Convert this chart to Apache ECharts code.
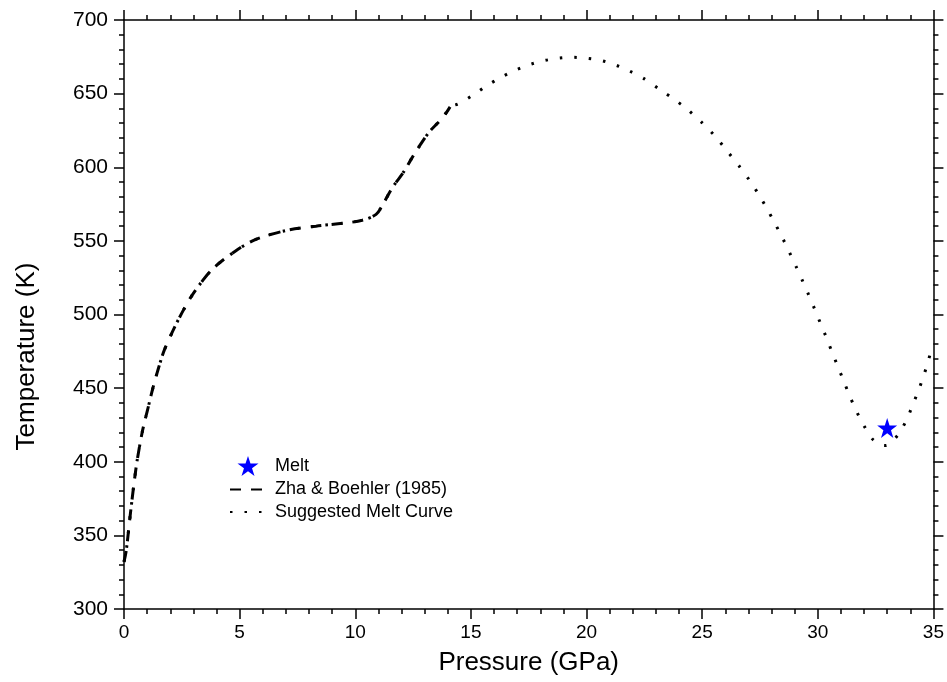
<!DOCTYPE html>
<html>
<head>
<meta charset="utf-8">
<script src="https://cdn.jsdelivr.net/npm/echarts@6/dist/echarts.min.js"></script>
<style>html,body{margin:0;padding:0;background:#fff}#c{width:947px;height:682px}</style>
</head>
<body>
<div id="c"></div>
<script>
// Zha & Boehler (1985) melting curve
const zhaP = [0, 0.1, 0.3, 0.55, 0.8, 1.0, 1.3, 1.7, 2.0, 2.4, 2.9, 3.4, 3.9, 4.9, 5.7, 7.0, 8.3, 9.5, 10.3, 10.9, 11.2, 11.6, 12.1, 12.4, 12.8, 13.2, 13.8, 14.1];
const zhaT = [332, 340, 368, 399, 421, 434, 453, 474, 485, 498, 512, 523, 532, 544, 551, 557, 560, 562, 564, 568, 575, 586, 597, 605, 615, 624, 634, 641];
// Suggested melt curve continuation beyond Zha & Boehler
const sugP = [14.45, 15.07, 15.67, 16.29, 16.91, 17.54, 18.16, 18.78, 19.4, 20.02, 20.65, 21.26, 21.83, 22.5, 23.2, 23.8, 24.34, 24.99, 25.58, 26.09, 26.59, 27.04, 27.44, 27.8, 28.14, 28.46, 28.76, 29.05, 29.33, 29.6, 29.87, 30.12, 30.38, 30.62, 30.87, 31.12, 31.37, 31.64, 31.95, 32.35, 32.7, 32.95, 33.2, 33.5, 33.85, 34.1, 34.35, 34.57, 34.76, 34.94, 35];
const sugT = [643, 648.8, 655.2, 661, 665.8, 669.7, 672.4, 674, 674.7, 674, 672.4, 669.4, 665.6, 660, 652.5, 646, 639.6, 630.3, 620.7, 610.8, 601, 591.3, 581.6, 571.9, 562.1, 552.4, 542.7, 532.9, 523.2, 513.5, 503.5, 493.8, 484, 474.3, 464.6, 454.8, 445.1, 435.4, 425.8, 415.7, 411.5, 411, 413.5, 419, 428.8, 438.5, 448.3, 458, 467.7, 477.5, 480];
// Melt observation
const meltP = [33.0];
const meltT = [423];

const xTicks = {min: 0, max: 35, interval: 5};
const yTicks = {min: 300, max: 700, interval: 50};

const zhaData = zhaP.map((p, i) => [p, zhaT[i]]);
const sugData = zhaP.map((p, i) => [p, zhaT[i]]).concat(sugP.map((p, i) => [p, sugT[i]]));
const meltData = meltP.map((p, i) => [p, meltT[i]]);

const star = 'path://M50,0 L61.2,34.5 L97.6,34.5 L68.2,55.9 L79.4,90.5 L50,69.1 L20.6,90.5 L31.8,55.9 L2.4,34.5 L38.8,34.5 Z';
const font = 'Liberation Sans, Arial, sans-serif';

const axisCommon = {
  axisLine: {show: true, onZero: false, lineStyle: {color: '#000', width: 1.5}},
  axisTick: {show: true, inside: false, length: 10, lineStyle: {color: '#000', width: 1.5}},
  minorTick: {show: true, splitNumber: 5, length: 5, lineStyle: {color: '#000', width: 1.5}},
  splitLine: {show: false}
};

const chart = echarts.init(document.getElementById('c'));
chart.setOption({
  backgroundColor: '#fff',
  animation: false,
  grid: {left: 124, right: 13, top: 20, bottom: 73},
  xAxis: [
    Object.assign({type: 'value', position: 'bottom', min: xTicks.min, max: xTicks.max, interval: xTicks.interval,
      name: 'Pressure (GPa)', nameLocation: 'middle', nameGap: 41,
      nameTextStyle: {fontSize: 26, color: '#000', fontFamily: font},
      axisLabel: {fontSize: 19, color: '#000', margin: 14, fontFamily: font}}, axisCommon),
    Object.assign({type: 'value', position: 'top', min: xTicks.min, max: xTicks.max, interval: xTicks.interval,
      axisLabel: {show: false}}, axisCommon)
  ],
  yAxis: [
    Object.assign({type: 'value', position: 'left', min: yTicks.min, max: yTicks.max, interval: yTicks.interval,
      name: 'Temperature (K)', nameLocation: 'middle', nameGap: 84,
      nameTextStyle: {fontSize: 26, color: '#000', fontFamily: font, padding: [0, 84, 0, 0]},
      axisLabel: {fontSize: 21, color: '#000', margin: 16, fontFamily: font}}, axisCommon),
    Object.assign({type: 'value', position: 'right', min: yTicks.min, max: yTicks.max, interval: yTicks.interval,
      axisLabel: {show: false}}, axisCommon)
  ],
  legend: {
    orient: 'vertical', left: 224, top: 451, itemWidth: 36, itemHeight: 20, itemGap: 4.5,
    textStyle: {fontSize: 18, color: '#000', fontFamily: font, padding: [0, 0, 0, 4]},
    data: [
      {name: 'Melt', icon: star},
      {name: 'Zha & Boehler (1985)', itemStyle: {opacity: 0}},
      {name: 'Suggested Melt Curve', itemStyle: {opacity: 0}}
    ]
  },
  series: [
    {name: 'Zha & Boehler (1985)', type: 'line', data: zhaData, showSymbol: false, symbol: 'none', smooth: 0.3,
      lineStyle: {color: '#000', width: 3, type: [11, 10]}, itemStyle: {color: '#000'}},
    {name: 'Suggested Melt Curve', type: 'line', data: sugData, showSymbol: false, symbol: 'none', smooth: 0.3,
      lineStyle: {color: '#000', width: 3, type: [2.5, 12]}, itemStyle: {color: '#000'}},
    {name: 'Melt', type: 'scatter', data: meltData, symbol: star, symbolSize: 20, z: 5,
      itemStyle: {color: '#0000ff', opacity: 1}}
  ]
});
</script>
</body>
</html>
